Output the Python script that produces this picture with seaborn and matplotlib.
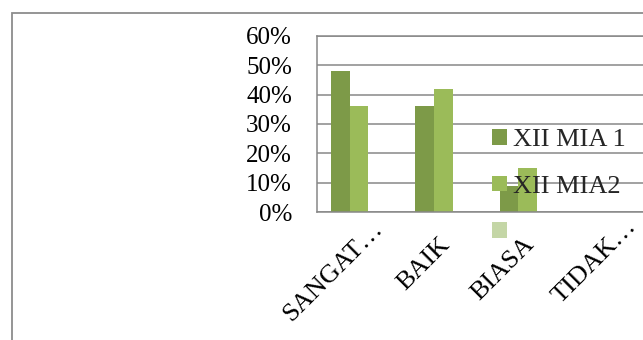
import matplotlib
matplotlib.use("Agg")
import matplotlib.pyplot as plt
from matplotlib.patches import Rectangle
from matplotlib.ticker import FuncFormatter, MultipleLocator
from matplotlib.transforms import ScaledTranslation
import pandas as pd
import seaborn as sns

# Survey answers per class (share of respondents)
categories = ["SANGAT…", "BAIK", "BIASA", "TIDAK…"]
series_names = ["XII MIA 1", "XII MIA2", " "]
mia1 = [0.48, 0.36, 0.09, 0.0]
mia2 = [0.36, 0.42, 0.15, 0.0]
third = [0.0, 0.0, 0.0, 0.0]
colors = ["#7D9A48", "#9BBB59", "#C4D6A6"]

rows = []
for name, vals in zip(series_names, [mia1, mia2, third]):
    for cat, v in zip(categories, vals):
        rows.append({"kategori": cat, "kelas": name, "nilai": v})
df = pd.DataFrame(rows)

sns.set_theme(style="white")
plt.rcParams["font.family"] = ["Liberation Serif", "DejaVu Serif"]

W, H = 643, 340
fig = plt.figure(figsize=(W / 100, H / 100), dpi=100)
fig.patch.set_facecolor("white")

# outer chart frame (runs past the right and bottom edges)
fig.patches.append(Rectangle((12 / W, -0.05), 1.2, 1.05 - 13 / H,
                             transform=fig.transFigure, fill=False,
                             edgecolor="#8C8C8C", linewidth=1.3))

ax = fig.add_axes([317 / W, (H - 212.3) / H, 337 / W, 176.6 / H])
sns.barplot(data=df, x="kategori", y="nilai", hue="kelas", order=categories,
            hue_order=series_names, palette=colors, saturation=1,
            width=0.665, gap=0, linewidth=0, ax=ax)

ax.set_xlim(-0.5, 3.5)
ax.set_ylim(0, 0.6)
ax.yaxis.set_major_locator(MultipleLocator(0.1))
ax.yaxis.set_major_formatter(FuncFormatter(lambda v, p: f"{v * 100:.0f}%"))
ax.set_xlabel("")
ax.set_ylabel("")
ax.yaxis.grid(True, color="#878787", linewidth=1.1)
ax.set_axisbelow(True)
for side in ["left", "bottom", "top"]:
    ax.spines[side].set_visible(True)
    ax.spines[side].set_color("#878787")
    ax.spines[side].set_linewidth(1.1)
ax.spines["right"].set_visible(False)

ax.tick_params(axis="y", length=0, pad=18, labelsize=18, labelcolor="black")
ax.tick_params(axis="x", length=0, pad=0, labelsize=19, labelcolor="black")

ax.set_xticks(range(len(categories)))
ax.set_xticklabels(categories, rotation=45, ha="right", va="baseline",
                   rotation_mode="anchor")
shifts = [(24, -17), (7, -33), (7, -33), (25, -15)]
for lab, (dx, dy) in zip(ax.get_xticklabels(), shifts):
    lab.set_transform(lab.get_transform() +
                      ScaledTranslation(dx / 100, dy / 100, fig.dpi_scale_trans))

sns.move_legend(ax, "upper left", bbox_to_anchor=(492 / W, 1 - 129 / H),
                bbox_transform=fig.transFigure, title=None, frameon=False,
                fontsize=19, handlelength=0.55, handleheight=0.55,
                handletextpad=0.25, labelspacing=0.92, borderpad=0,
                borderaxespad=0)

fig.savefig("out.png", dpi=100)
